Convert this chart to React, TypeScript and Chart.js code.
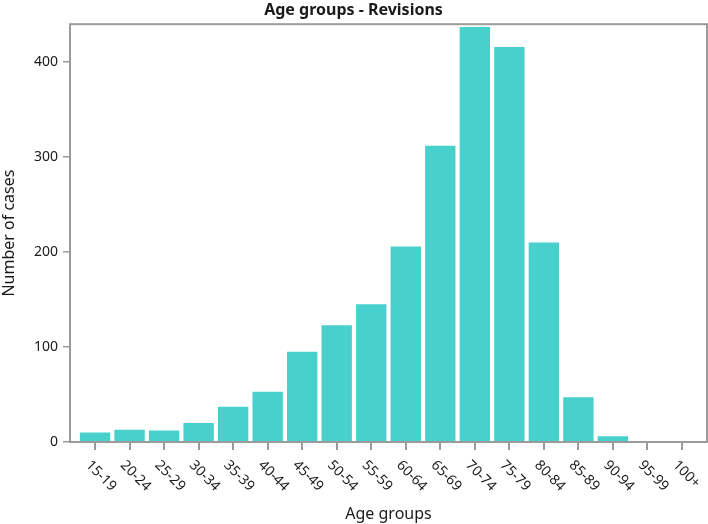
import React, { useEffect, useRef } from "react";
import { Chart, registerables } from "chart.js";

Chart.register(...registerables);

const ageGroups = [
  "15-19", "20-24", "25-29", "30-34", "35-39", "40-44", "45-49", "50-54", "55-59",
  "60-64", "65-69", "70-74", "75-79", "80-84", "85-89", "90-94", "95-99", "100+",
];
const cases = [10, 13, 12, 20, 37, 53, 95, 123, 145, 206, 312, 437, 416, 210, 47, 6, 0, 0];
const yTicks = [0, 100, 200, 300, 400];

const FONT = '"Noto Sans", "DejaVu Sans", sans-serif';
const GRAY = "#9b9b9b";
const TEXT = "#1a1a1a";
const BAR = "#48D1CC";

const framePlugin = {
  id: "frameAndLabels",
  afterDatasetsDraw(chart: any) {
    const { ctx, chartArea } = chart;
    ctx.save();
    ctx.strokeStyle = GRAY;
    ctx.lineWidth = 2;
    ctx.strokeRect(chartArea.left, chartArea.top, chartArea.right - chartArea.left, chartArea.bottom - chartArea.top);
    ctx.restore();
  },
  afterDraw(chart: any) {
    const { ctx, chartArea } = chart;
    const xs = chart.scales.x;
    ctx.save();
    ctx.font = `14px ${FONT}`;
    ctx.fillStyle = TEXT;
    ctx.textAlign = "left";
    ctx.textBaseline = "middle";
    ageGroups.forEach((lab, i) => {
      const x = xs.getPixelForValue(i);
      ctx.save();
      ctx.translate(x - 7, chartArea.bottom + 21);
      ctx.rotate(Math.PI / 4);
      ctx.fillText(lab, 0, 0);
      ctx.restore();
    });
    ctx.restore();
  },
};

export default function App() {
  const ref = useRef<HTMLCanvasElement>(null);
  useEffect(() => {
    if (!ref.current) return;
    const chart = new Chart(ref.current, {
      type: "bar",
      data: {
        datasets: [
          {
            label: "Number of cases",
            data: cases.map((v, i) => ({ x: i, y: v })),
            backgroundColor: BAR,
            borderWidth: 0,
            barPercentage: 0.88,
            categoryPercentage: 1,
          },
        ],
      },
      options: {
        animation: false,
        responsive: true,
        maintainAspectRatio: false,
        layout: { padding: { left: 0, right: 1, top: 0, bottom: 0 } },
        plugins: {
          legend: { display: false },
          tooltip: { enabled: false },
          title: {
            display: true,
            text: "Age groups - Revisions",
            color: TEXT,
            font: { family: FONT, size: 16, weight: "bold" },
            padding: { top: 1, bottom: 4 },
          },
        },
        scales: {
          x: {
            type: "linear",
            offset: false,
            min: -0.725,
            max: 17.725,
            afterBuildTicks: (scale: any) => {
              scale.ticks = ageGroups.map((_, i) => ({ value: i }));
            },
            afterFit: (scale: any) => {
              scale.height = 82;
            },
            border: { display: false },
            grid: { offset: false, drawOnChartArea: false, drawTicks: true, tickLength: 8, color: GRAY, lineWidth: 2 },
            ticks: { display: false },
            title: {
              display: true,
              text: "Age groups",
              color: TEXT,
              font: { family: FONT, size: 16 },
              padding: { top: 0, bottom: 0 },
            },
          },
          y: {
            min: 0,
            max: 440,
            afterBuildTicks: (scale: any) => {
              scale.ticks = yTicks.map((v) => ({ value: v }));
            },
            afterFit: (scale: any) => {
              scale.width = 70;
            },
            border: { display: false },
            grid: { drawOnChartArea: false, drawTicks: true, tickLength: 7, color: GRAY, lineWidth: 1.5 },
            ticks: {
              color: TEXT,
              font: { family: FONT, size: 14 },
              padding: 5,
            },
            title: {
              display: true,
              text: "Number of cases",
              color: TEXT,
              font: { family: FONT, size: 16 },
              padding: { top: 0, bottom: 0 },
            },
          },
        },
      },
      plugins: [framePlugin],
    });
    return () => chart.destroy();
  }, []);
  return (
    <div style={{ position: "absolute", left: 0, top: 0, width: 708, height: 524, background: "#fff" }}>
      <canvas ref={ref} />
    </div>
  );
}
